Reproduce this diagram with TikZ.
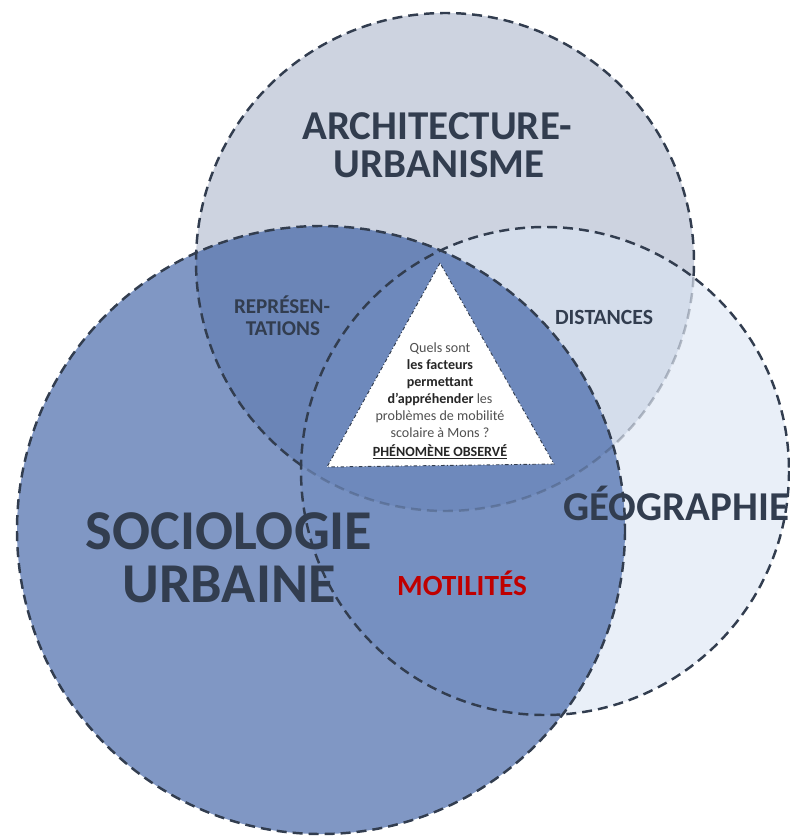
\documentclass[tikz,border=0pt]{standalone}
\usepackage{fontspec}
\setmainfont{Carlito}
\definecolor{archi}{HTML}{CDD3E0}
\definecolor{geo}{HTML}{DAE4F3}
\definecolor{socio}{HTML}{2B529D}
\definecolor{ink}{HTML}{323D4F}
\definecolor{qgray}{HTML}{505050}
\definecolor{qdark}{HTML}{262626}
\definecolor{motred}{HTML}{C00000}
\begin{document}
\begin{tikzpicture}[
   x=0.3mm,y=-0.3mm,
   ring/.style={draw=ink,line width=2.1pt,dash pattern=on 3mm off 1.8mm},
   field/.style={text=ink,anchor=base,inner sep=0pt},
   link/.style={text=ink,font=\bfseries\fontsize{18}{18}\selectfont,anchor=base,inner sep=0pt}
 ]
  \useasboundingbox (0,0) rectangle (789,836);
  \coordinate (cA) at (445,262);
  \coordinate (cG) at (545,471);
  \coordinate (cS) at (321,530);

  % disques
  \fill[archi] (cA) circle[radius=249];
  \fill[geo,fill opacity=0.6] (cG) circle[radius=244];
  \fill[socio,fill opacity=0.6] (cS) circle[radius=304];

  % contours
  \draw[ring] (cA) ++(125.3:249) arc[start angle=125.3,end angle=363.5,radius=249];
  \draw[ring,draw opacity=0.3] (cA) ++(3.5:249) arc[start angle=3.5,end angle=125.3,radius=249];
  \draw[ring] (cG) circle[radius=244];
  \draw[ring] (cS) circle[radius=304];

  % triangle central
  \coordinate (tA) at (440,263);
  \coordinate (tL) at (327,467);
  \coordinate (tR) at (554,464);
  \draw[fill=white,draw=ink,line width=0.8pt,dash dot] (tA) -- (tL) -- (tR) -- cycle;

  \node[font=\fontsize{12}{14.6}\selectfont,text=qgray,align=center,inner sep=0pt] (quest) at (440,390)
    {Quels sont\\ \textbf{\color{qdark}les facteurs}\\ \textbf{\color{qdark}permettant}\\
     \textbf{\color{qdark}d’appréhender} les\\ problèmes de mobilité\\ scolaire à Mons ?};
  \node[font=\bfseries\fontsize{12}{12}\selectfont,text=qdark,anchor=base,inner sep=0pt] (phen) at (440,456)
    {\underline{PHÉNOMÈNE OBSERVÉ}};

  % disciplines
  \node[field,font=\bfseries\fontsize{35}{35}\selectfont] (archi1) at (437,140) {ARCHITECTURE-};
  \node[field,font=\bfseries\fontsize{35}{35}\selectfont] (archi2) at (439,178) {URBANISME};
  \node[field,font=\bfseries\fontsize{48}{48}\selectfont] (socio1) at (229,549) {SOCIOLOGIE};
  \node[field,font=\bfseries\fontsize{48}{48}\selectfont] (socio2) at (229,602) {URBAINE};
  \node[field,font=\bfseries\fontsize{35}{35}\selectfont,anchor=base west] (geo) at (563,520) {GÉOGRAPHIE};

  % intersections
  \node[link] (rep1) at (282,313) {REPRÉSEN-};
  \node[link] (rep2) at (283,335) {TATIONS};
  \node[link,font=\bfseries\fontsize{18.5}{18.5}\selectfont] (dist) at (604,324) {DISTANCES};
  \node[link,text=motred,font=\bfseries\fontsize{25}{25}\selectfont] (moti) at (462,595) {MOTILITÉS};
\end{tikzpicture}
\end{document}
